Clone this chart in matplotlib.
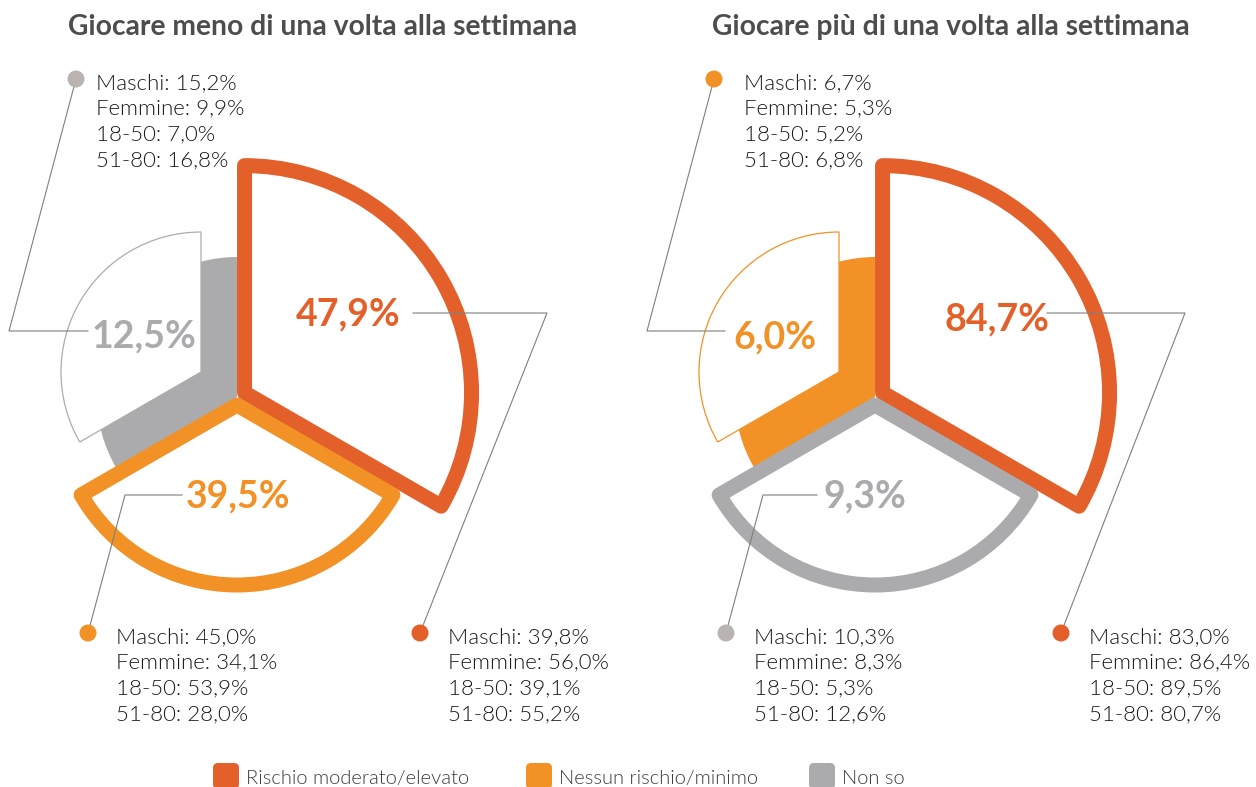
import matplotlib
matplotlib.use('Agg')
import numpy as np
import matplotlib.pyplot as plt
from matplotlib.patches import Wedge, Circle, FancyBboxPatch

plt.rcParams['font.family'] = ['Lato', 'DejaVu Sans']

# dati
categorie = ['Rischio moderato/elevato', 'Nessun rischio/minimo', 'Non so']
titoli = ['Giocare meno di una volta alla settimana',
          'Giocare più di una volta alla settimana']
gruppi = ['Maschi', 'Femmine', '18-50', '51-80']

meno_tot = [47.9, 39.5, 12.5]
meno_dett = [[39.8, 56.0, 39.1, 55.2],
             [45.0, 34.1, 53.9, 28.0],
             [15.2, 9.9, 7.0, 16.8]]
piu_tot = [84.7, 6.0, 9.3]
piu_dett = [[83.0, 86.4, 89.5, 80.7],
            [6.7, 5.3, 5.2, 6.8],
            [10.3, 8.3, 5.3, 12.6]]

colori = ['#E4602A', '#F29226', '#ABAAAC']
colori_punto = ['#E4602A', '#F29226', '#B9B4B2']
colore_ombra = ['#E4602A', '#F29226', '#B0ABA9']

W, H = 1256, 787

# layout (pixel, y verso il basso) - slot per rango del valore
angoli = [(-30, 90), (210, 330), (90, 210)]
raggi = [227, 180, 140]
esplodi = [8.7, 8, 0]
ombra = (-36, -25)

centri = [(237, 397), (875, 397)]
titolo_x = [323, 951]
pos_etichetta = [[(348, 325), (238, 507), (144, 347)],
                 [(997, 330), (865, 507), (775, 348)]]
linee = [[[(413, 313), (547, 313), (420, 633)],
          [(182, 495), (125, 495), (88, 633)],
          [(88, 331), (9, 331), (76, 79)]],
         [[(1047, 313), (1185, 313), (1061, 633)],
          [(817, 495), (763, 495), (726, 633)],
          [(725, 331), (647, 331), (714, 79)]]]
pos_dettaglio = [[(448, 643), (116, 643), (96, 89)],
                 [(1089, 643), (754, 643), (744, 89)]]


def fmt(v):
    return f'{v:.1f}'.replace('.', ',') + '%'


def settore(c, r, a1, a2, **kw):
    # angoli a schermo (antiorari), asse y invertito
    return Wedge(c, r, -a2, -a1, **kw)


fig = plt.figure(figsize=(W / 100, H / 100), dpi=100)
ax = fig.add_axes([0, 0, 1, 1])
ax.set_xlim(0, W)
ax.set_ylim(H, 0)
ax.axis('off')

for k, (tot, dett) in enumerate([(meno_tot, meno_dett), (piu_tot, piu_dett)]):
    cx, cy = centri[k]
    ordine = np.argsort(tot)[::-1]
    ax.text(titolo_x[k], 35, titoli[k], ha='center', va='baseline',
            fontsize=20.3, fontweight='bold', color='#4D4D4D')
    for slot, i in enumerate(ordine):
        a1, a2 = angoli[slot]
        bis = np.radians((a1 + a2) / 2)
        d = esplodi[slot]
        c = (cx + d * np.cos(bis), cy - d * np.sin(bis))
        r = raggi[slot]
        if slot < 2:
            ax.add_patch(settore(c, r, a1, a2, facecolor='white',
                                 edgecolor=colori[i], linewidth=10.8,
                                 joinstyle='round', zorder=3))
        else:
            ax.add_patch(settore(c, r, a1, a2, facecolor=colori[i],
                                 edgecolor='none', zorder=1))
            c2 = (c[0] + ombra[0], c[1] + ombra[1])
            ax.add_patch(settore(c2, r, a1, a2, facecolor='white',
                                 edgecolor=colore_ombra[i], linewidth=0.9,
                                 zorder=2))
        lx, ly = pos_etichetta[k][slot]
        ax.text(lx, ly, fmt(tot[i]), ha='center', va='baseline', fontsize=27,
                fontweight='bold', color=colori[i], zorder=6)
        pts = np.array(linee[k][slot])
        ax.plot(pts[:, 0], pts[:, 1], color='#7F7F7F', lw=0.8, zorder=4)
        ax.add_patch(Circle(tuple(pts[-1]), 8.5, facecolor=colori_punto[i],
                            edgecolor='none', zorder=6))
        tx, ty = pos_dettaglio[k][slot]
        for j, g in enumerate(gruppi):
            ax.text(tx, ty + j * 25.7, f'{g}: {fmt(dett[i][j])}', ha='left',
                    va='baseline', fontsize=16, fontweight=300,
                    color='#1A1A1A', zorder=6)

# legenda
leg_x = [213, 526, 809]
for i, nome in enumerate(categorie):
    ax.add_patch(FancyBboxPatch((leg_x[i], 763), 26, 26,
                                boxstyle='round,pad=0,rounding_size=5',
                                facecolor=colori[i], edgecolor='none'))
    ax.text(leg_x[i] + 33, 784, nome, ha='left', va='baseline',
            fontsize=14.5, fontweight=300, color='#3C3C3C')

fig.savefig('out.png', dpi=100)
